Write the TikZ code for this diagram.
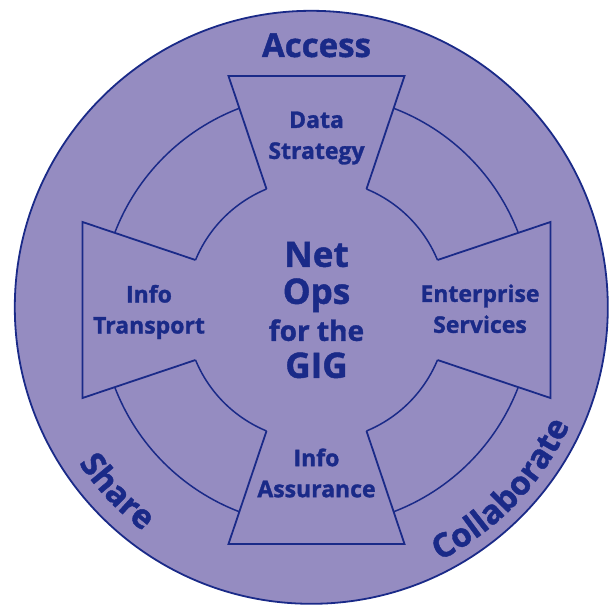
\documentclass[tikz,border=0pt]{standalone}
\usepackage{fontspec}
\setmainfont{Open Sans}[BoldFeatures={FakeBold=1.3}]
\usetikzlibrary{decorations.text}
\definecolor{ringfill}{RGB}{149,140,193}
\definecolor{ink}{RGB}{26,42,136}
\begin{document}
\begin{tikzpicture}[x=1pt,y=1pt,
  trap/.style={draw=ink, line width=1.8pt, line join=miter},
  ringline/.style={draw=ink, line width=1.5pt},
  lbl/.style={text=ink, font=\fontsize{23}{31}\selectfont\bfseries, align=center, inner sep=0pt},
  bigword/.style={text=ink, font=\fontsize{33}{33}\selectfont\bfseries, inner sep=0pt}]
\useasboundingbox (-316.5,-300) rectangle (293.5,310);
\fill[ringfill, draw=ink, line width=1.8pt] (-5.2,2.7) circle[radius=296.5pt];
\foreach \a in {0,90,180,270}{
  \begin{scope}[rotate=\a]
    \draw[trap] (121,50) -- (234,88) -- (234,-88) -- (121,-50);
    \draw[ringline] (22.45:130.9pt) arc[start angle=22.45, end angle=67.55, radius=130.9pt];
    \draw[ringline] (20.93:216pt) arc[start angle=20.93, end angle=69.07, radius=216pt];
  \end{scope}
}
\node[bigword, anchor=base] (access) at (0,253) {Access};
\path[shift={(-5.2,2.7)}, decorate, decoration={text along path, text align=center, text color=ink,
  text format delimiters={|}{|}, text={|\fontsize{33}{33}\selectfont\bfseries|Collaborate}}]
  (-80:284pt) arc[start angle=-80, end angle=-7.7, radius=284pt];
\path[shift={(-5.2,2.7)}, decorate, decoration={text along path, text align=center, text color=ink,
  text format delimiters={|}{|}, text={|\fontsize{33}{33}\selectfont\bfseries|Share}}]
  (190:280pt) arc[start angle=190, end angle=257, radius=280pt];
\node[text=ink, align=center, inner sep=0pt, font=\fontsize{35}{37}\selectfont\bfseries] (netops) at (0,0)
  {Net\\Ops\\{\fontsize{28}{37}\selectfont for the}\\GIG};
\node[lbl] (data) at (0,172) {Data\\Strategy};
\node[lbl] (transport) at (-167.5,-2) {Info\\Transport};
\node[lbl] (enterprise) at (163.5,1.25) {Enterprise\\Services};
\node[lbl] (assurance) at (0,-163) {Info\\Assurance};
\end{tikzpicture}
\end{document}
